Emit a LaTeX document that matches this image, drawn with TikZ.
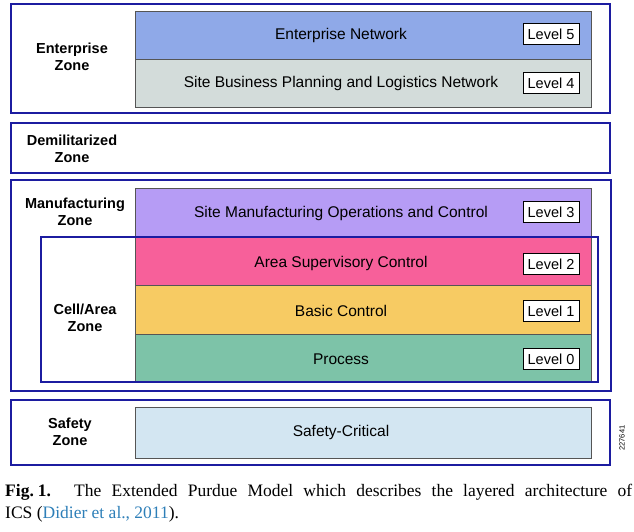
\documentclass[tikz,border=0pt]{standalone}
\usepackage{fontspec}
\setmainfont{Liberation Sans}
\newfontfamily\capfont{Liberation Serif}
\definecolor{zoneblue}{HTML}{1C1CA0}
\definecolor{layergray}{HTML}{555555}
\definecolor{entblue}{HTML}{8FA9E8}
\definecolor{sitegray}{HTML}{D3DCDA}
\definecolor{lavender}{HTML}{B69CF5}
\definecolor{pinkish}{HTML}{F7609A}
\definecolor{yellowish}{HTML}{F7CB63}
\definecolor{tealish}{HTML}{7DC3A8}
\definecolor{safeblue}{HTML}{D3E6F2}
\definecolor{citeblue}{HTML}{2E7FB8}
\begin{document}
\begin{tikzpicture}[x=1pt,y=-1pt,
  zone/.style={draw=zoneblue, line width=2.2pt, inner sep=0, outer sep=0, anchor=north west, minimum width=599pt},
  layer/.style={draw=layergray, line width=0.8pt, inner sep=0, outer sep=0, anchor=north west, minimum width=456pt},
  lvl/.style={draw=black, line width=0.8pt, fill=white, font=\fontsize{14.5}{14.5}\selectfont, minimum width=56pt, minimum height=21pt, inner sep=0},
  zlabel/.style={font=\bfseries\fontsize{14.5}{17.5}\selectfont, align=center, inner sep=0},
  ltext/.style={font=\fontsize{15.5}{17}\selectfont, inner sep=0}]
\useasboundingbox (0,0) rectangle (634,531);

% Enterprise zone
\node[zone, minimum height=109pt] (ent) at (11,4) {};
\node[layer, fill=entblue, minimum height=48pt] (l5) at (135,11) {};
\node[layer, fill=sitegray, minimum height=48pt] (l4) at (135,59) {};
\node[ltext] (t5) at (341,35) {Enterprise Network};
\node[ltext] (t4) at (341,83) {Site Business Planning and Logistics Network};
\node[lvl] (v5) at (551,34) {Level 5};
\node[lvl] (v4) at (551,83) {Level 4};
\node[zlabel] (entl) at (72,57) {Enterprise\\Zone};

% DMZ
\node[zone, minimum height=50pt] (dmz) at (11,123) {};
\node[zlabel] (dmzl) at (72,149) {Demilitarized\\Zone};

% Manufacturing zone
\node[zone, minimum height=211pt, minimum width=600pt] (man) at (11,180) {};
\node[layer, fill=lavender, minimum height=49pt] (l3) at (135,188) {};
\node[layer, fill=pinkish, minimum height=48pt] (l2) at (135,237) {};
\node[layer, fill=yellowish, minimum height=49pt] (l1) at (135,285) {};
\node[layer, fill=tealish, minimum height=47pt] (l0) at (135,334) {};
\node[draw=zoneblue, line width=1.4pt, inner sep=0, outer sep=0, anchor=north west, minimum width=557pt, minimum height=145pt] (cell) at (41,237) {};
\node[ltext] (t3) at (341,213) {Site Manufacturing Operations and Control};
\node[ltext] (t2) at (341,263) {Area Supervisory Control};
\node[ltext] (t1) at (341,311) {Basic Control};
\node[ltext] (t0) at (341,359) {Process};
\node[lvl] (v3) at (551,212) {Level 3};
\node[lvl] (v2) at (551,264) {Level 2};
\node[lvl] (v1) at (551,311) {Level 1};
\node[lvl] (v0) at (551,359) {Level 0};
\node[zlabel] (manl) at (75,212) {Manufacturing\\Zone};
\node[zlabel] (celll) at (85,318) {Cell/Area\\Zone};

% Safety zone
\node[zone, minimum height=65pt] (saf) at (11,400) {};
\node[layer, fill=safeblue, minimum height=51pt] (ls) at (135,407) {};
\node[ltext] (ts) at (341,432) {Safety-Critical};
\node[zlabel] (safl) at (70,432) {Safety\\Zone};
\node[font=\fontsize{7.5}{7.5}\selectfont, rotate=90, inner sep=0] (num) at (622,438) {227641};

% Caption
\node[anchor=north west, inner sep=0, text width=627pt, align=justify,
      font=\capfont\fontsize{17.5}{22}\selectfont] (cap) at (5,484)
  {\textbf{Fig.\hspace{4pt}1.} The Extended Purdue Model which describes the layered architecture of\linebreak ICS (\textcolor{citeblue}{Didier et al., 2011}).};
\end{tikzpicture}
\end{document}
